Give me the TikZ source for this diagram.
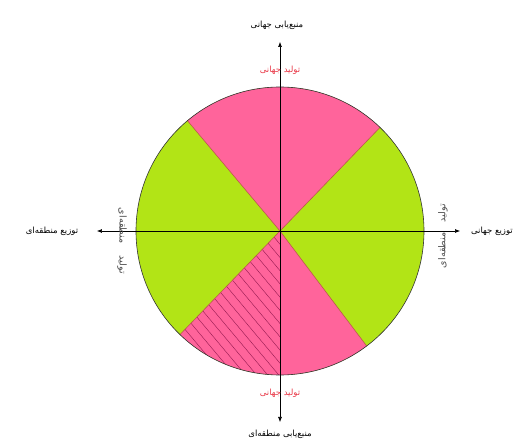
\documentclass[tikz,border=0pt]{standalone}
\usepackage{fontspec}
\usepackage{tikz}
\usetikzlibrary{calc,arrows.meta,positioning}
\newfontfamily\farsi[Script=Arabic]{DejaVu Sans}
\TeXXeTstate=1
\definecolor{sectorG}{RGB}{178,228,22}
\definecolor{sectorP}{RGB}{255,100,155}
\definecolor{edgeS}{RGB}{185,95,70}
\definecolor{hatchP}{RGB}{150,25,80}
\definecolor{labR}{RGB}{232,55,70}
\newcommand{\fatext}[1]{\beginR #1\endR}

\begin{document}
\begin{tikzpicture}[x=1pt,y=1pt,
    lbl/.style={font=\farsi\fontsize{8.5}{10}\selectfont, inner sep=1pt},
    sidelbl/.style={font=\farsi\fontsize{9.5}{11}\selectfont, inner sep=1pt, black!70},
    axisline/.style={semithick, {Latex[length=5pt,width=4pt]}-{Latex[length=5pt,width=4pt]}}]
      \useasboundingbox (-280,-210) rectangle (245,231);
      % centre and radius of the disc
      \coordinate (O) at (0,0);
      \def\R{144}

      % whole disc in green, then the two pink sectors
      \fill[sectorG] (O) circle (\R);
      \fill[sectorP] (O) -- (46:\R) arc (46:130:\R) -- cycle;
      \fill[sectorP] (O) -- (226:\R) arc (226:307:\R) -- cycle;

      % hatching in the lower-left pink sector
      \begin{scope}
        \clip (O) -- (226:\R) arc (226:270:\R) -- cycle;
        \foreach \k in {-20,...,20}
          \draw[hatchP, thin] ($(O)+(40:\k*8.5)$) ++(130:250) -- ++(-50:500);
      \end{scope}

      % sector borders
      \foreach \a in {46,130,226,307}
        \draw[edgeS, semithick] (O) -- (\a:\R);
      \draw[black!80, semithick] (O) circle (\R);

      % axes
      \coordinate (N) at (0,189);
      \coordinate (S) at (0,-191);
      \coordinate (W) at (-183,0);
      \coordinate (E) at (180,0);
      \draw[axisline] (S) -- (N);
      \draw[axisline] (W) -- (E);

      % labels
      \node[lbl] (topL) at (-3,206) {\fatext{منبع‌یابی جهانی}};
      \node[lbl, labR] (topR) at (0,161) {\fatext{تولید جهانی}};
      \node[lbl, labR] (botR) at (0,-162) {\fatext{تولید جهانی}};
      \node[lbl] (botL) at (0,-203) {\fatext{منبع‌یابی منطقه‌ای}};
      \node[lbl] (westL) at (-228,0) {\fatext{توزیع منطقه‌ای}};
      \node[lbl] (eastL) at (212,0) {\fatext{توزیع جهانی}};
      \node[sidelbl, rotate=-90] (westV) at (-158,-10) {\fatext{تولید\hspace{12pt}منطقه‌ای}};
      \node[sidelbl, rotate=90] (eastV) at (163,-5) {\fatext{تولید\hspace{10pt}منطقه‌ای}};
    \end{tikzpicture}
\end{document}
